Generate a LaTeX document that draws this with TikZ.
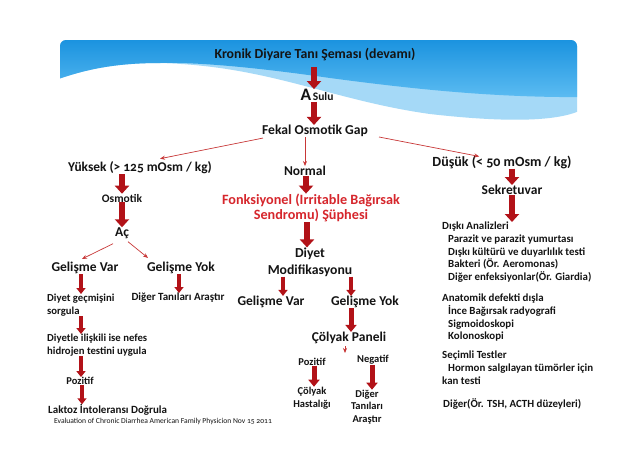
\documentclass[tikz,border=0pt]{standalone}
\usepackage{fontspec}
\setmainfont{Carlito}[Numbers=OldStyle]
\usetikzlibrary{arrows.meta,calc}
\definecolor{arrred}{RGB}{178,18,24}
\definecolor{thinred}{RGB}{200,55,55}
\definecolor{txtred}{RGB}{214,38,44}
\definecolor{bdark}{RGB}{16,140,220}
\definecolor{blight}{RGB}{92,188,242}
\definecolor{bpale}{RGB}{165,217,247}
\definecolor{txt}{RGB}{20,20,20}
\begin{document}
\begin{tikzpicture}[x=1pt,y=-1pt,
  lbl/.style={inner sep=0pt, text=txt, font=\bfseries\fontsize{13.5}{16}\selectfont},
  mid/.style={inner sep=0pt, text=txt, font=\bfseries\fontsize{11.5}{14}\selectfont},
  sml/.style={inner sep=0pt, text=txt, font=\bfseries\fontsize{10.5}{12.5}\selectfont},
  blk/.style={inner sep=0pt, text=txt, align=left, font=\bfseries\fontsize{10.9}{12.7}\selectfont},
  bigarr/.style={draw=arrred, line width=6.5pt, -{Triangle[width=14pt,length=8pt]}},
  midarr/.style={draw=arrred, line width=5pt, -{Triangle[width=11pt,length=7pt]}},
  smarr/.style={draw=arrred, line width=4pt, -{Triangle[width=9pt,length=6pt]}},
  thinarr/.style={draw=thinred, line width=0.7pt, -{Stealth[length=5pt,width=4pt]}},
]
\useasboundingbox (0,0) rectangle (638,451);
\fill[white] (0,0) rectangle (638,451);

% banner
\begin{scope}
\clip[rounded corners=6pt] (60,40) rectangle (577,140);
\fill[bpale] (50,30) -- (590,30) -- (590,104)
  .. controls (570,124) and (500,122) .. (430,114)
  .. controls (330,100) and (270,66) .. (160,63)
  .. controls (110,63) and (80,71) .. (50,82) -- cycle;
\shade[top color=bdark, bottom color=blight] (50,30) -- (590,30) -- (590,97)
  .. controls (500,98) and (420,90) .. (330,78)
  .. controls (260,68) and (200,62) .. (160,63)
  .. controls (110,63) and (80,71) .. (50,82) -- cycle;
\end{scope}

% nodes
\node[mid, font=\bfseries\fontsize{13.8}{16}\selectfont] (title) at (315,55) {Kronik Diyare Tanı Şeması (devamı)};
\node[inner sep=0pt, text=txt, font=\bfseries] (asulu) at (317,95) {{\fontsize{17.5}{17}\selectfont A}\,{\fontsize{11.5}{11}\selectfont Sulu}};
\node[mid, font=\bfseries\fontsize{13.6}{16}\selectfont] (fekal) at (315,131) {Fekal Osmotik Gap};

\node[lbl, font=\bfseries\fontsize{13.4}{15}\selectfont] (yuksek) at (140,168) {Yüksek (> 125 mOsm / kg)};
\node[lbl] (normal) at (305,171) {Normal};
\node[lbl, font=\bfseries\fontsize{14}{15}\selectfont] (dusuk) at (502,162) {Düşük (< 50 mOsm / kg)};

\node[mid] (osmotik) at (122,198) {Osmotik};
\node[lbl] (ac) at (122,233) {Aç};
\node[lbl] (sekret) at (512,190) {Sekretuvar};
\node[lbl, text=txtred, align=center, font=\bfseries\fontsize{14.2}{15.5}\selectfont] (fonks) at (311,208) {Fonksiyonel (Irritable Bağırsak\\Sendromu) Şüphesi};
\node[lbl, align=center, font=\bfseries\fontsize{13.7}{17}\selectfont] (diyetmod) at (310,262) {Diyet\\Modifikasyonu};

\node[lbl] (gvar1) at (85,268) {Gelişme Var};
\node[lbl] (gyok1) at (181,268) {Gelişme Yok};
\node[lbl] (gvar2) at (271,302) {Gelişme Var};
\node[lbl] (gyok2) at (365,302) {Gelişme Yok};

\node[blk, font=\bfseries\fontsize{10.7}{12.3}\selectfont, anchor=north west] (diyetgec) at (47,294) {Diyet geçmişini\\sorgula};
\node[sml, font=\bfseries\fontsize{11}{13}\selectfont] (digertan) at (178,298) {Diğer Tanıları Araştır};
\node[blk, font=\bfseries\fontsize{10.7}{12.3}\selectfont, anchor=north west] (diyetle) at (47,334) {Diyetle ilişkili ise nefes\\hidrojen testini uygula};
\node[sml] (pozitif1) at (80,381) {Pozitif};
\node[sml, anchor=west, font=\bfseries\fontsize{11}{13}\selectfont] (laktoz) at (48,410) {Laktoz İntoleransı Doğrula};
\node[inner sep=0pt, anchor=west, text=txt, font=\fontsize{7.6}{8}\selectfont] (cite) at (54,421) {Evaluation of Chronic Diarrhea American Family Physicion Nov 15 2011};

\node[lbl] (colyak) at (349,338) {Çölyak Paneli};
\coordinate (cpend) at (345,353);
\node[sml] (poz2) at (312,362) {Pozitif};
\node[sml] (neg) at (373,360) {Negatif};
\node[sml, align=center, font=\bfseries\fontsize{10.5}{13}\selectfont] (colhast) at (312,398) {Çölyak\\Hastalığı};
\node[sml, align=center, font=\bfseries\fontsize{10.5}{12.5}\selectfont] (digtan) at (367,407) {Diğer\\Tanıları\\Araştır};

\node[blk, anchor=north west] (dis) at (442,222) {Dışkı Analizleri\\
\hspace*{6pt}Parazit ve parazit yumurtası\\
\hspace*{6pt}Dışkı kültürü ve duyarlılık testi\\
\hspace*{6pt}Bakteri (Ör. Aeromonas)\\
\hspace*{6pt}Diğer enfeksiyonlar(Ör. Giardia)};
\node[blk, anchor=north west] (anat) at (442,294) {Anatomik defekti dışla\\
\hspace*{6pt}İnce Bağırsak radyografi\\
\hspace*{6pt}Sigmoidoskopi\\
\hspace*{6pt}Kolonoskopi};
\node[blk, anchor=north west] (secim) at (442,351) {Seçimli Testler\\
\hspace*{6pt}Hormon salgılayan tümörler için\\
kan testi};
\node[blk, anchor=north west] (diger) at (443,398) {Diğer(Ör. TSH, ACTH düzeyleri)};

% block arrows
\draw[bigarr, shorten <=6pt] (title.south -| 314,0) -- (asulu.north -| 314,0);
\draw[bigarr, shorten <=1pt] (asulu.south -| 314,0) -- (fekal.north -| 314,0);
\draw[bigarr] (yuksek.south -| 122,0) -- (osmotik.north -| 122,0);
\draw[bigarr] (osmotik.south -| 122,0) -- (ac.north -| 122,0);
\draw[bigarr] (normal.south -| 306,0) -- (fonks.north -| 306,0);
\draw[bigarr] (fonks.south -| 307,0) -- (diyetmod.north -| 307,0);
\draw[bigarr] (dusuk.south -| 512,0) -- (sekret.north -| 512,0);
\draw[bigarr] (sekret.south -| 512,0) -- (dis.north -| 512,0);

\draw[smarr] (gvar1.south -| 81,0) -- (diyetgec.north -| 81,0);
\draw[smarr] (gyok1.south -| 179,0) -- (digertan.north -| 179,0);
\draw[smarr] (diyetgec.south -| 81,0) -- (diyetle.north -| 81,0);
\draw[smarr] (diyetle.south -| 81,0) -- (pozitif1.north -| 81,0);
\draw[smarr] (pozitif1.south -| 82,0) -- (laktoz.north -| 82,0);
\draw[smarr] (diyetmod.south -| 283,0) -- (gvar2.north -| 283,0);
\draw[smarr] (diyetmod.south -| 351,0) -- (gyok2.north -| 351,0);
\draw[midarr] (gyok2.south -| 351,0) -- (colyak.north -| 351,0);
\draw[midarr] (poz2.south -| 314,0) -- (colhast.north -| 314,0);
\draw[midarr] (neg.south -| 372,0) -- (digtan.north -| 372,0);

% thin arrows
\draw[thinarr] ($(fekal.south west)+(1,1)$) -- ($(yuksek.north)+(20,-3)$);
\draw[thinarr] (fekal.south -| normal.north) -- (normal.north);
\draw[thinarr] ($(fekal.east)+(11,6)$) -- ($(dusuk.north west)+(47,1)$);
\draw[thinarr] ($(ac.south)+(-9,5)$) -- ($(gvar1.north)+(-3,-3)$);
\draw[thinarr] ($(ac.south)+(6,3)$) -- ($(gyok1.north)+(-33,-4)$);
\draw[thinarr, shorten <=2pt] (colyak.south -| cpend) -- (cpend);
\end{tikzpicture}
\end{document}
